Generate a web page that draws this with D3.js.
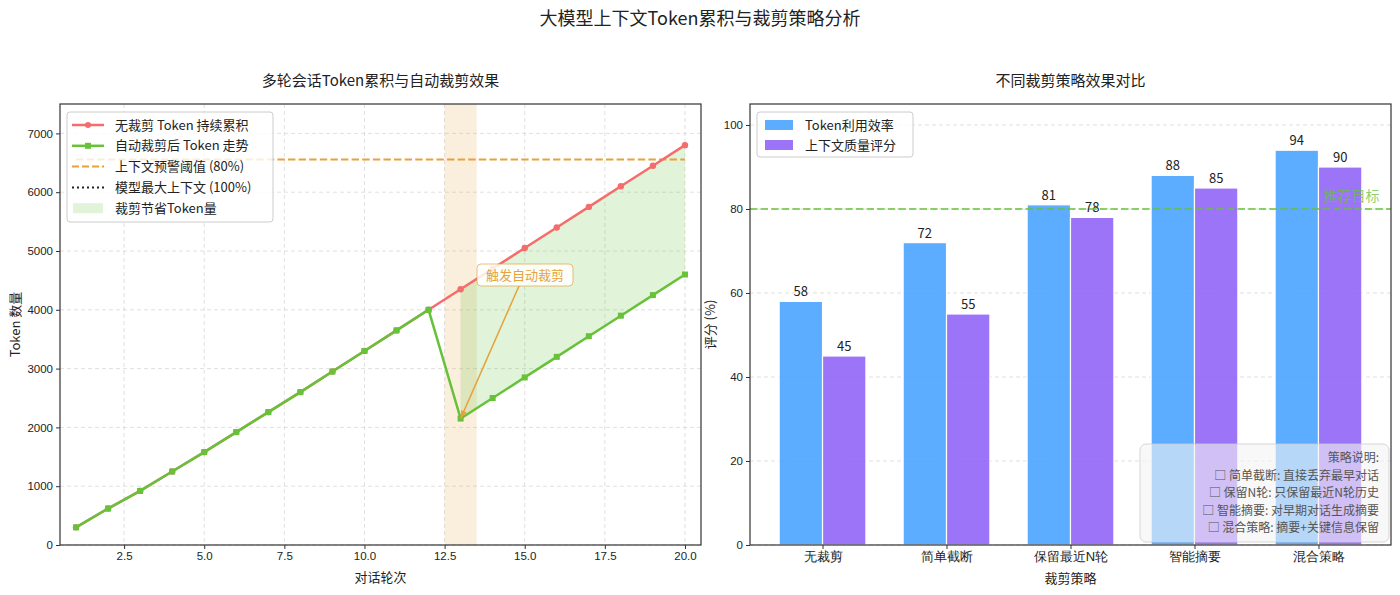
<!DOCTYPE html>
<html>
<head>
<meta charset="utf-8">
<script src="https://cdn.jsdelivr.net/npm/d3@7"></script>
<style>
  body { margin: 0; background: #fff; }
  svg { font-family: "Noto Sans CJK SC", "DejaVu Sans", sans-serif; }
</style>
</head>
<body>
<svg id="chart" width="1400" height="595"></svg>
<script>
// left chart data
const rounds = d3.range(1, 21);
const noTrim = [300, 620, 920, 1250, 1580, 1920, 2260, 2600, 2950, 3300, 3650, 4000,
  4350, 4700, 5050, 5400, 5750, 6100, 6450, 6800];
const withTrim = [300, 620, 920, 1250, 1580, 1920, 2260, 2600, 2950, 3300, 3650, 4000,
  2150, 2500, 2850, 3200, 3550, 3900, 4250, 4600];
const warnThreshold = 6554;   // 80% of 8192
const maxContext = 8192;
const trimRound = 13;
const xTicksLeft = [2.5, 5.0, 7.5, 10.0, 12.5, 15.0, 17.5, 20.0];
const yTicksLeft = [0, 1000, 2000, 3000, 4000, 5000, 6000, 7000];

// right chart data
const strategies = ["无裁剪", "简单截断", "保留最近N轮", "智能摘要", "混合策略"];
const efficiency = [58, 72, 81, 88, 94];
const quality = [45, 55, 78, 85, 90];
const targetScore = 80;
const yTicksRight = [0, 20, 40, 60, 80, 100];
const notes = ["策略说明:", "□ 简单截断: 直接丢弃最早对话", "□ 保留N轮: 只保留最近N轮历史",
  "□ 智能摘要: 对早期对话生成摘要", "□ 混合策略: 摘要+关键信息保留"];

const RED = "#F56C6C", GREEN = "#67C23A", ORANGE = "#E6A23C";
const BLUE = "#409EFF", PURPLE = "#8B5CF6";

const svg = d3.select("#chart");

// main title
svg.append("text")
  .attr("x", 700).attr("y", 25)
  .attr("text-anchor", "middle")
  .style("font-size", "18px")
  .style("fill", "#222")
  .text("大模型上下文Token累积与裁剪策略分析");

// ---------------- Left chart ----------------
const L = { left: 60, right: 701, top: 104, bottom: 545 };
const x1 = d3.scaleLinear().domain([0.5, 20.5]).range([L.left, L.right]);
const y1 = d3.scaleLinear().domain([0, 7500]).range([L.bottom, L.top]);

const left = svg.append("g");

svg.append("defs").append("clipPath").attr("id", "clipL")
  .append("rect")
  .attr("x", L.left).attr("y", L.top)
  .attr("width", L.right - L.left).attr("height", L.bottom - L.top);

// subplot title
left.append("text")
  .attr("x", (L.left + L.right) / 2).attr("y", 86)
  .attr("text-anchor", "middle")
  .style("font-size", "15px")
  .style("fill", "#222")
  .text("多轮会话Token累积与自动裁剪效果");

// grid
left.append("g").selectAll("line").data(xTicksLeft).join("line")
  .attr("x1", d => x1(d)).attr("x2", d => x1(d))
  .attr("y1", L.top).attr("y2", L.bottom)
  .style("stroke", "#ccc").style("stroke-dasharray", "4,3").style("stroke-opacity", 0.6);
left.append("g").selectAll("line").data(yTicksLeft).join("line")
  .attr("x1", L.left).attr("x2", L.right)
  .attr("y1", d => y1(d)).attr("y2", d => y1(d))
  .style("stroke", "#ccc").style("stroke-dasharray", "4,3").style("stroke-opacity", 0.6);

const plotL = left.append("g").attr("clip-path", "url(#clipL)");

// trim highlight span
plotL.append("rect")
  .attr("x", x1(trimRound - 0.5)).attr("y", L.top)
  .attr("width", x1(trimRound + 0.5) - x1(trimRound - 0.5))
  .attr("height", L.bottom - L.top)
  .style("fill", ORANGE).style("fill-opacity", 0.18);

// saved area
const saved = rounds.map((r, i) => ({ r, hi: noTrim[i], lo: withTrim[i] }))
  .filter(d => d.r >= trimRound);
plotL.append("path")
  .datum(saved)
  .attr("d", d3.area().x(d => x1(d.r)).y0(d => y1(d.lo)).y1(d => y1(d.hi)))
  .style("fill", GREEN).style("fill-opacity", 0.2);

// threshold lines
plotL.append("line")
  .attr("x1", x1(1)).attr("x2", x1(20))
  .attr("y1", y1(warnThreshold)).attr("y2", y1(warnThreshold))
  .style("stroke", ORANGE).style("stroke-width", 2).style("stroke-dasharray", "7.4,3.2");
plotL.append("line")
  .attr("x1", x1(1)).attr("x2", x1(20))
  .attr("y1", y1(maxContext)).attr("y2", y1(maxContext))
  .style("stroke", "#222").style("stroke-width", 2).style("stroke-dasharray", "2,3");

// lines
const line1 = d3.line().x((d, i) => x1(rounds[i])).y(d => y1(d));
plotL.append("path").datum(noTrim).attr("d", line1)
  .style("fill", "none").style("stroke", RED).style("stroke-width", 2.5);
plotL.append("g").selectAll("circle").data(noTrim).join("circle")
  .attr("cx", (d, i) => x1(rounds[i])).attr("cy", d => y1(d)).attr("r", 3.2)
  .style("fill", RED);

plotL.append("path").datum(withTrim).attr("d", line1)
  .style("fill", "none").style("stroke", GREEN).style("stroke-width", 2.5);
plotL.append("g").selectAll("rect").data(withTrim).join("rect")
  .attr("x", (d, i) => x1(rounds[i]) - 3).attr("y", d => y1(d) - 3)
  .attr("width", 6).attr("height", 6)
  .style("fill", GREEN);

// annotation
const annX = 525, annY = 275;
left.append("line")
  .attr("x1", annX - 6).attr("y1", annY + 11)
  .attr("x2", x1(trimRound)).attr("y2", y1(withTrim[trimRound - 1]))
  .style("stroke", ORANGE).style("stroke-width", 1.5);
left.append("path")
  .attr("d", () => {
    const tx = x1(trimRound), ty = y1(withTrim[trimRound - 1]);
    const ang = Math.atan2(ty - (annY + 11), tx - (annX - 6));
    const s = 8, w = 3;
    const bx = tx - s * Math.cos(ang), by = ty - s * Math.sin(ang);
    return `M${tx},${ty}L${bx - w * Math.sin(ang)},${by + w * Math.cos(ang)}L${bx + w * Math.sin(ang)},${by - w * Math.cos(ang)}Z`;
  })
  .style("fill", ORANGE);
left.append("rect")
  .attr("x", annX - 48).attr("y", annY - 11)
  .attr("width", 96).attr("height", 22).attr("rx", 4)
  .style("fill", "#fff").style("fill-opacity", 0.85)
  .style("stroke", ORANGE).style("stroke-opacity", 0.7);
left.append("text")
  .attr("x", annX).attr("y", annY + 5)
  .attr("text-anchor", "middle")
  .style("font-size", "13px").style("fill", ORANGE)
  .text("触发自动裁剪");

// axes
const axL = left.append("g");
axL.append("g").attr("transform", `translate(0,${L.bottom})`)
  .call(d3.axisBottom(x1).tickValues(xTicksLeft).tickFormat(d3.format(".1f")).tickSize(4).tickSizeOuter(0));
axL.append("g").attr("transform", `translate(${L.left},0)`)
  .call(d3.axisLeft(y1).tickValues(yTicksLeft).tickFormat(d3.format("d")).tickSize(4).tickSizeOuter(0));
axL.selectAll(".tick text").style("font-size", "11.5px").style("fill", "#222");
axL.selectAll(".tick line").style("stroke", "#333");
axL.selectAll(".domain").remove();
left.append("rect")
  .attr("x", L.left).attr("y", L.top)
  .attr("width", L.right - L.left).attr("height", L.bottom - L.top)
  .style("fill", "none").style("stroke", "#333").style("stroke-width", 1.2);

left.append("text")
  .attr("x", (L.left + L.right) / 2).attr("y", 582)
  .attr("text-anchor", "middle").style("font-size", "13px").style("fill", "#222")
  .text("对话轮次");
left.append("text")
  .attr("transform", `translate(20,${(L.top + L.bottom) / 2}) rotate(-90)`)
  .attr("text-anchor", "middle").style("font-size", "13px").style("fill", "#222")
  .text("Token 数量");

// legend left
const legL = left.append("g");
legL.append("rect")
  .attr("x", 67).attr("y", 112).attr("width", 206).attr("height", 110).attr("rx", 3)
  .style("fill", "#fff").style("fill-opacity", 0.8).style("stroke", "#ccc");
const legItems = [
  { label: "无裁剪 Token 持续累积", type: "line", color: RED, marker: "circle" },
  { label: "自动裁剪后 Token 走势", type: "line", color: GREEN, marker: "square" },
  { label: "上下文预警阈值 (80%)", type: "dash", color: ORANGE },
  { label: "模型最大上下文 (100%)", type: "dot", color: "#222" },
  { label: "裁剪节省Token量", type: "area", color: GREEN }
];
legItems.forEach((it, i) => {
  const cy = 125 + i * 20.8;
  const g = legL.append("g");
  if (it.type === "area") {
    g.append("rect").attr("x", 73).attr("y", cy - 5).attr("width", 30).attr("height", 10)
      .style("fill", it.color).style("fill-opacity", 0.2);
  } else {
    g.append("line").attr("x1", 72).attr("x2", 104).attr("y1", cy).attr("y2", cy)
      .style("stroke", it.color).style("stroke-width", it.type === "line" ? 2.5 : 2)
      .style("stroke-dasharray", it.type === "dash" ? "7,3" : it.type === "dot" ? "2,3" : null);
    if (it.marker === "circle") g.append("circle").attr("cx", 88).attr("cy", cy).attr("r", 3).style("fill", it.color);
    if (it.marker === "square") g.append("rect").attr("x", 85).attr("y", cy - 3).attr("width", 6).attr("height", 6).style("fill", it.color);
  }
  g.append("text").attr("x", 115).attr("y", cy + 4.5)
    .style("font-size", "13px").style("fill", "#222").text(it.label);
});

// ---------------- Right chart ----------------
const R = { left: 750, right: 1391, top: 104, bottom: 545 };
const x2 = d3.scaleLinear().domain([-0.585, 4.585]).range([R.left, R.right]);
const y2 = d3.scaleLinear().domain([0, 105]).range([R.bottom, R.top]);
const barW = 0.35;

const right = svg.append("g");

right.append("text")
  .attr("x", (R.left + R.right) / 2).attr("y", 86)
  .attr("text-anchor", "middle")
  .style("font-size", "15px")
  .style("fill", "#222")
  .text("不同裁剪策略效果对比");

right.append("g").selectAll("line").data(yTicksRight).join("line")
  .attr("x1", R.left).attr("x2", R.right)
  .attr("y1", d => y2(d)).attr("y2", d => y2(d))
  .style("stroke", "#ccc").style("stroke-dasharray", "4,3").style("stroke-opacity", 0.6);

const series = [
  { values: efficiency, color: BLUE, offset: -barW / 2 },
  { values: quality, color: PURPLE, offset: barW / 2 }
];
series.forEach(s => {
  right.append("g").selectAll("rect").data(s.values).join("rect")
    .attr("x", (d, i) => x2(i + s.offset - barW / 2))
    .attr("y", d => y2(d))
    .attr("width", x2(barW) - x2(0))
    .attr("height", d => y2(0) - y2(d))
    .style("fill", s.color).style("fill-opacity", 0.85)
    .style("stroke", "#fff").style("stroke-width", 1.2);
  right.append("g").selectAll("text").data(s.values).join("text")
    .attr("x", (d, i) => x2(i + s.offset))
    .attr("y", d => y2(d) - 5)
    .attr("text-anchor", "middle")
    .style("font-size", "13px").style("fill", "#222")
    .text(d => d);
});

// target line
right.append("line")
  .attr("x1", R.left).attr("x2", R.right)
  .attr("y1", y2(targetScore)).attr("y2", y2(targetScore))
  .style("stroke", GREEN).style("stroke-opacity", 0.75)
  .style("stroke-width", 2).style("stroke-dasharray", "7.4,3.2");
right.append("text")
  .attr("x", x2(4.04)).attr("y", y2(targetScore) - 8)
  .style("font-size", "14px").style("fill", GREEN).style("fill-opacity", 0.75)
  .text("推荐目标");

// notes box
const nb = right.append("g");
nb.append("rect")
  .attr("x", 1140).attr("y", 444).attr("width", 249).attr("height", 98).attr("rx", 6)
  .style("fill", "#f4f4f4").style("fill-opacity", 0.6)
  .style("stroke", "#ccc").style("stroke-opacity", 0.8);
nb.selectAll("text").data(notes).join("text")
  .attr("x", 1379).attr("y", (d, i) => 462 + i * 17.6)
  .attr("text-anchor", "end")
  .style("font-size", "12px").style("fill", "#555")
  .text(d => d);

// axes
const axR = right.append("g");
axR.append("g").attr("transform", `translate(0,${R.bottom})`)
  .call(d3.axisBottom(x2).tickValues(d3.range(strategies.length)).tickFormat(i => strategies[i]).tickSize(4).tickSizeOuter(0));
axR.append("g").attr("transform", `translate(${R.left},0)`)
  .call(d3.axisLeft(y2).tickValues(yTicksRight).tickSize(4).tickSizeOuter(0));
axR.selectAll(".tick text").style("font-size", "11.5px").style("fill", "#222");
axR.selectAll(".tick line").style("stroke", "#333");
axR.select("g").selectAll(".tick text").style("font-size", "13px");
axR.selectAll(".domain").remove();
right.append("rect")
  .attr("x", R.left).attr("y", R.top)
  .attr("width", R.right - R.left).attr("height", R.bottom - R.top)
  .style("fill", "none").style("stroke", "#333").style("stroke-width", 1.2);

right.append("text")
  .attr("x", (R.left + R.right) / 2).attr("y", 583)
  .attr("text-anchor", "middle").style("font-size", "13px").style("fill", "#222")
  .text("裁剪策略");
right.append("text")
  .attr("transform", `translate(715,${(R.top + R.bottom) / 2}) rotate(-90)`)
  .attr("text-anchor", "middle").style("font-size", "13px").style("fill", "#222")
  .text("评分 (%)");

// legend right
const legR = right.append("g");
legR.append("rect")
  .attr("x", 757).attr("y", 112).attr("width", 156).attr("height", 45).attr("rx", 3)
  .style("fill", "#fff").style("fill-opacity", 0.8).style("stroke", "#ccc");
[{ label: "Token利用效率", color: BLUE }, { label: "上下文质量评分", color: PURPLE }].forEach((it, i) => {
  const cy = 125 + i * 20;
  legR.append("rect").attr("x", 765).attr("y", cy - 5).attr("width", 28).attr("height", 10)
    .style("fill", it.color).style("fill-opacity", 0.85);
  legR.append("text").attr("x", 805).attr("y", cy + 4.5)
    .style("font-size", "13px").style("fill", "#222").text(it.label);
});
</script>
</body>
</html>
